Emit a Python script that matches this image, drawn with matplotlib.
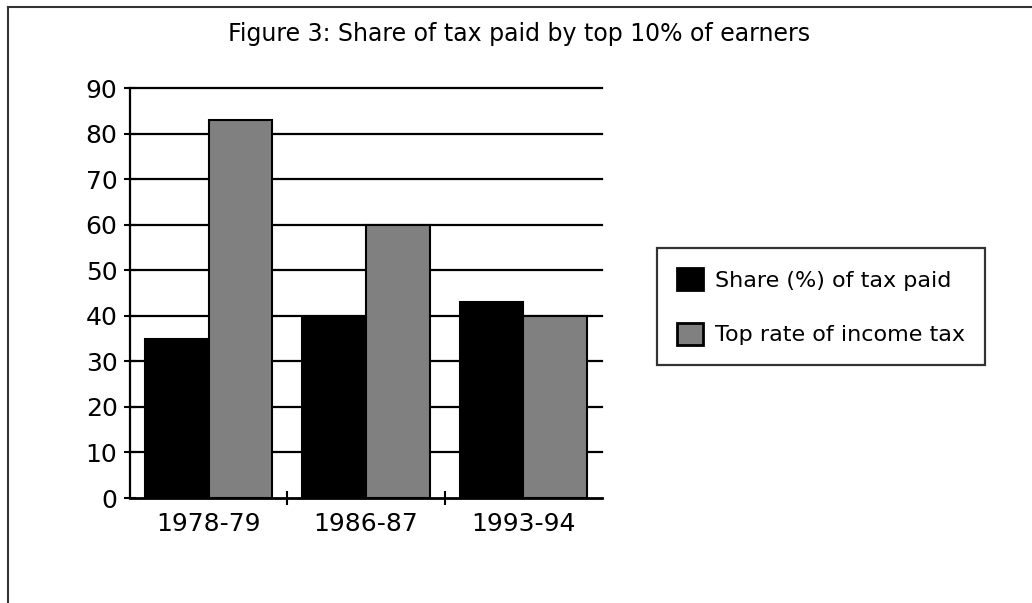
import matplotlib
matplotlib.use('Agg')
import matplotlib.pyplot as plt
import numpy as np
from matplotlib.lines import Line2D

DPI_RESOLUTION = 100

years = ['1978-79', '1986-87', '1993-94']
share_of_tax = [35, 39.5, 43]
top_rate = [83, 60, 40]
series_labels = ['Share (%) of tax paid', 'Top rate of income tax']
y_ticks = [0, 10, 20, 30, 40, 50, 60, 70, 80, 90]

plt.rcParams['font.family'] = ['DejaVu Sans']

fig = plt.figure(figsize=(10.32, 6.03), dpi=DPI_RESOLUTION)
ax = fig.add_axes([130 / 1032, 1 - 498 / 603, 472 / 1032, 410 / 603])

x = np.arange(len(years))
width = 0.405
ax.bar(x - width / 2, share_of_tax, width, color='black', edgecolor='black',
       linewidth=1.5, label=series_labels[0], zorder=3)
ax.bar(x + width / 2, top_rate, width, color='#808080', edgecolor='black',
       linewidth=1.5, label=series_labels[1], zorder=3)

ax.set_xlim(-0.5, 2.5)
ax.set_ylim(0, 90)

# horizontal gridlines behind the bars
for v in y_ticks[1:]:
    ax.axhline(v, color='black', linewidth=1.6, zorder=1, clip_on=False)

ax.set_yticks(y_ticks)
ax.tick_params(axis='y', direction='inout', length=8, width=1.5, labelsize=18, pad=5)
ax.set_xticks(x)
ax.set_xticklabels(years)
ax.tick_params(axis='x', which='major', length=0, labelsize=18, pad=10)
ax.set_xticks([0.5, 1.5], minor=True)
ax.tick_params(axis='x', which='minor', direction='inout', length=10, width=1.5)

for side in ['top', 'right']:
    ax.spines[side].set_visible(False)
ax.spines['left'].set_linewidth(1.6)
ax.spines['bottom'].set_linewidth(2)
ax.spines['left'].set_zorder(4)
ax.spines['bottom'].set_zorder(4)

fig.text(519 / 1032, 1 - 34 / 603, 'Figure 3: Share of tax paid by top 10% of earners',
         ha='center', va='center', fontsize=17)

leg = fig.legend(loc='upper left', bbox_to_anchor=(657 / 1032, 1 - 248 / 603),
                 fontsize=16, frameon=True, fancybox=False, shadow=False,
                 handlelength=1.15, handleheight=1.15, handletextpad=0.55,
                 labelspacing=1.45, borderpad=0.9, borderaxespad=0)
leg.get_frame().set_edgecolor('black')
leg.get_frame().set_linewidth(1.6)
for patch in leg.get_patches():
    patch.set_linewidth(2)

# outer frame of the original page (left and top only)
fig.add_artist(Line2D([8 / 1032, 8 / 1032], [0, 1 - 7 / 603], color='#333333', linewidth=1.5))
fig.add_artist(Line2D([8 / 1032, 1], [1 - 7 / 603, 1 - 7 / 603], color='#333333', linewidth=1.5))

fig.savefig('out.png', dpi=DPI_RESOLUTION)
